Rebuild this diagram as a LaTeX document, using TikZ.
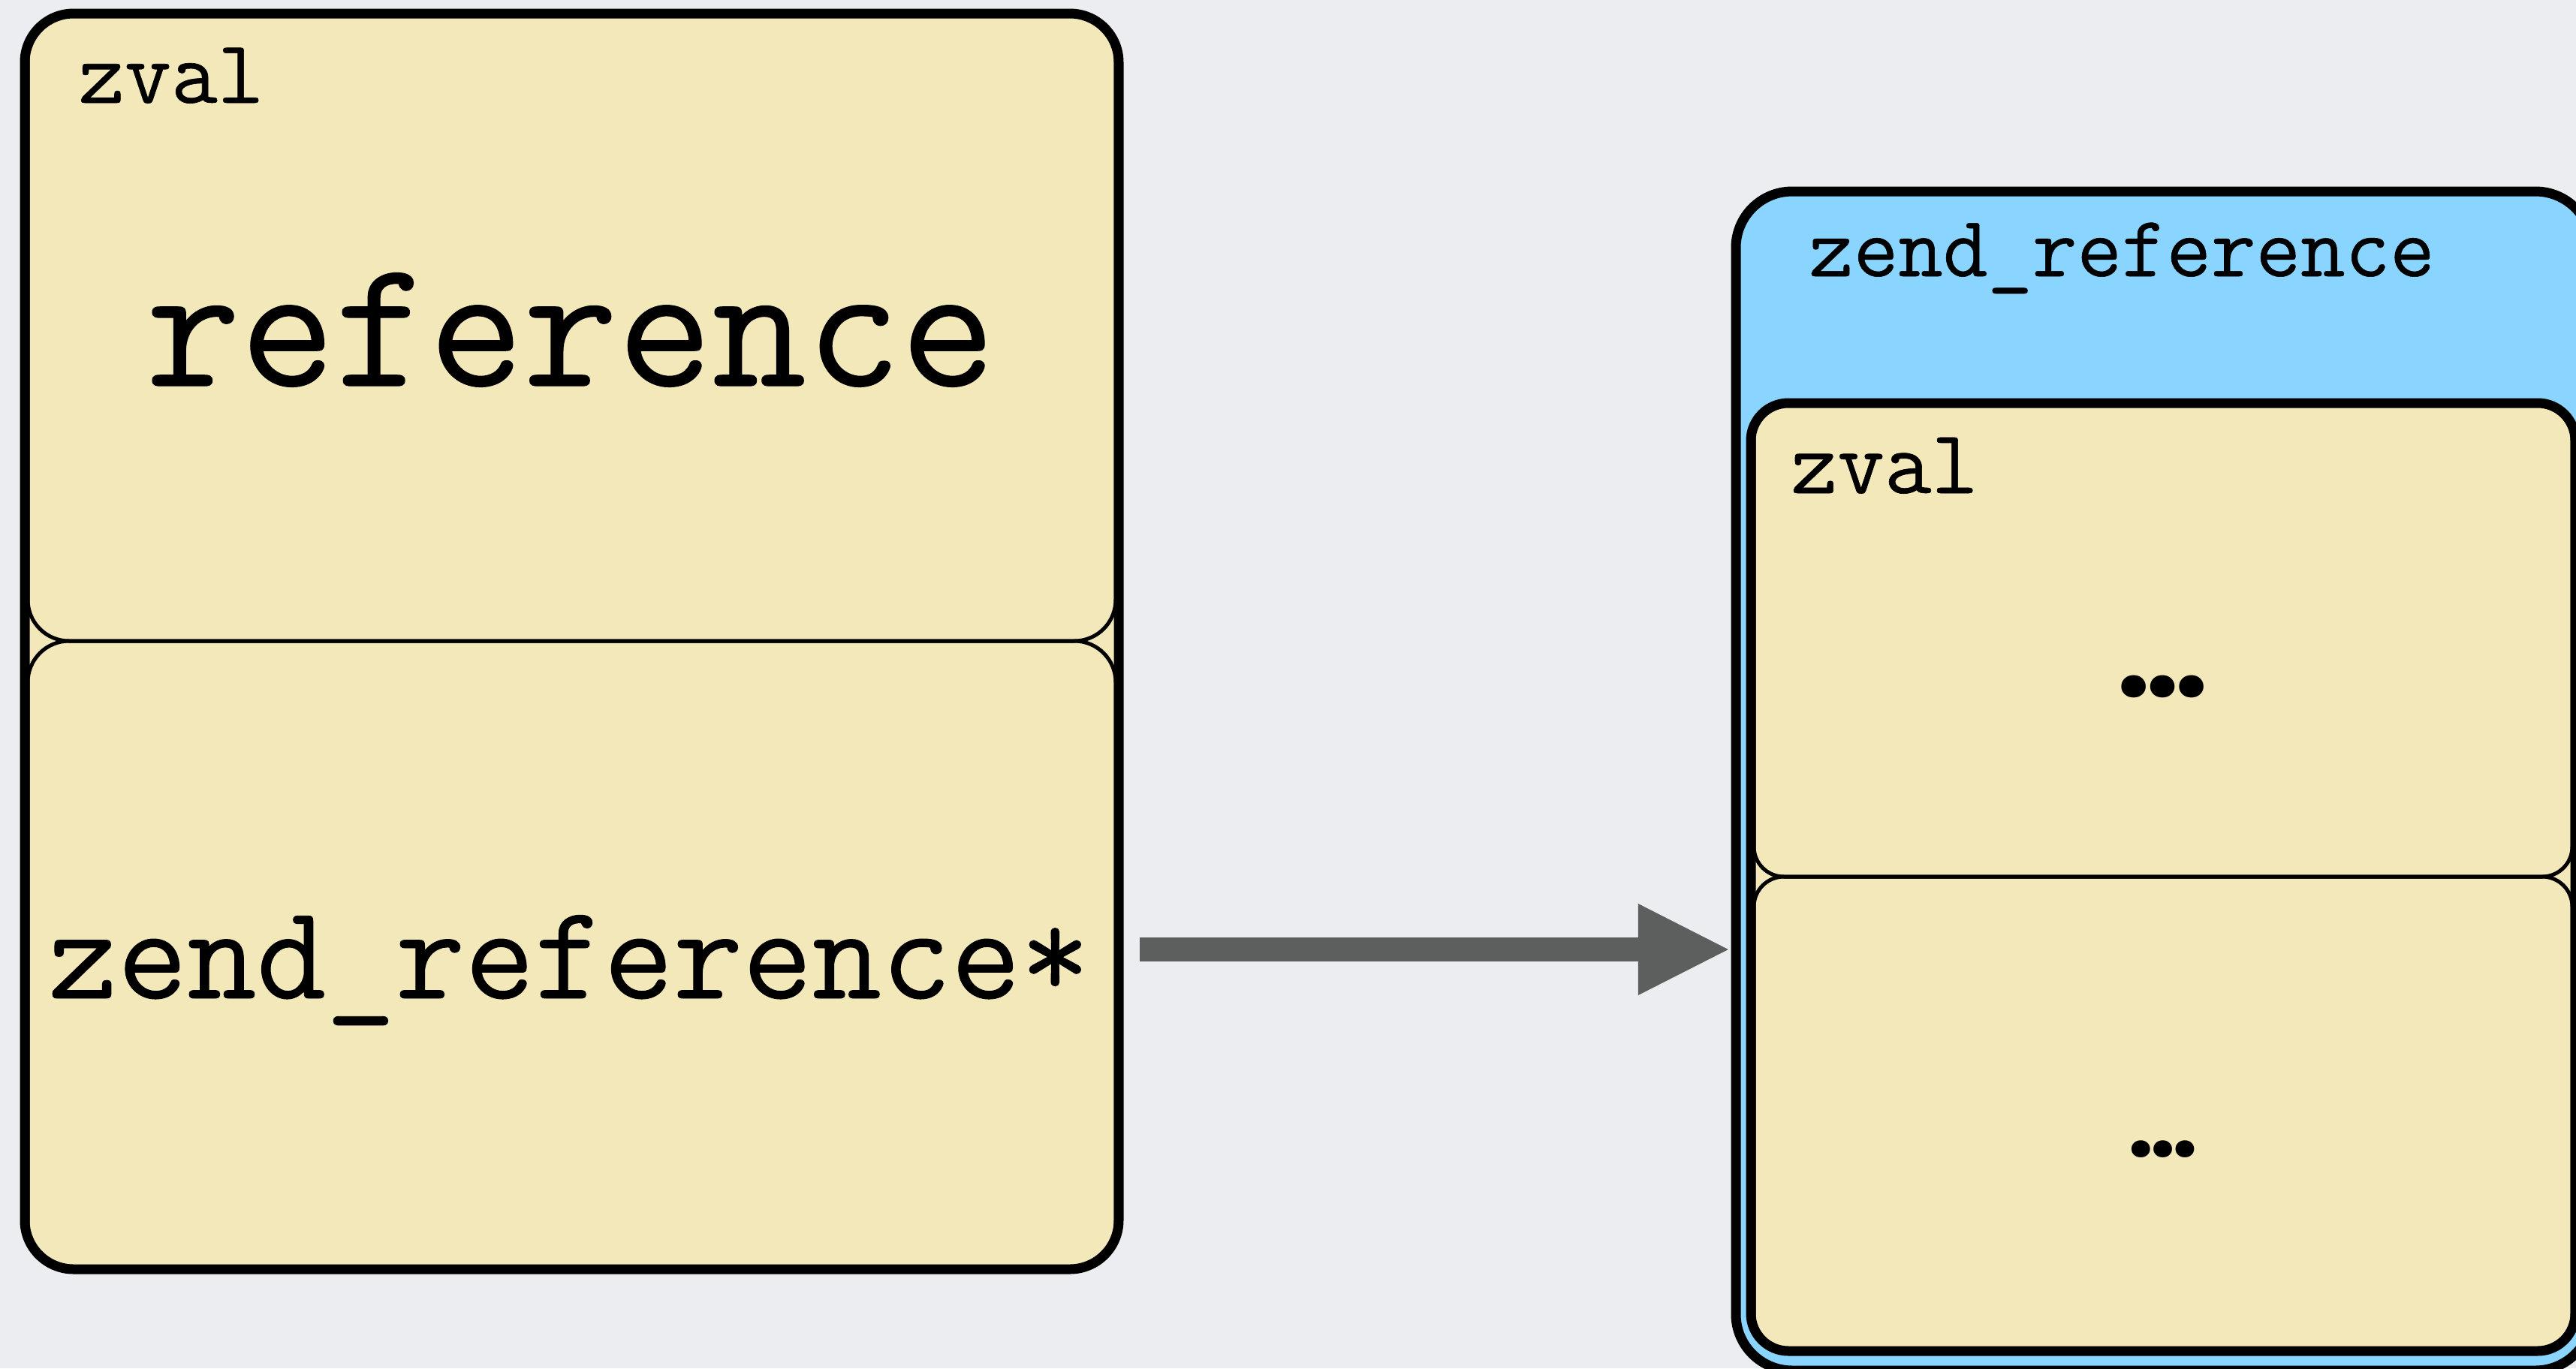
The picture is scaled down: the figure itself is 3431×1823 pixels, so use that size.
\documentclass[tikz,border=0pt]{standalone}
\usepackage{fontspec}
\newfontfamily\cour{Latin Modern Mono}[FakeBold=0.5]
\newfontfamily\dotfont{Poppins}
\usetikzlibrary{arrows.meta}
\definecolor{bgcol}{HTML}{ECEDF0}
\definecolor{beige}{HTML}{F2E8B9}
\definecolor{skyblue}{HTML}{89D5FF}
\definecolor{arrowgray}{HTML}{5C5F5E}
\tikzset{
  thickborder/.style={draw=black, line width=3.25pt},
  thinborder/.style={draw=black, line width=1.25pt},
  lbl/.style={inner sep=0pt, anchor=base, font=\cour},
  dotlbl/.style={inner sep=0pt, anchor=base, font=\dotfont\bfseries},
  bigarrow/.style={draw=arrowgray, line width=8pt,
    -{Triangle[length=30pt,width=30.5pt,line width=0pt]}},
}
\newcommand{\fs}[1]{\fontsize{#1}{#1}\selectfont}
\begin{document}
\begin{tikzpicture}[x=0.25pt,y=-0.25pt]
\useasboundingbox (0,0) rectangle (3431,1823);
\fill[bgcol] (0,0) rectangle (3431,1823);

% ---------- left box ----------
\begin{scope}
  \clip[rounded corners=16.25pt] (33,18) rectangle (1490,1691);
  \fill[beige] (0,0) rectangle (1500,1700);
  \draw[thinborder, rounded corners=13.75pt] (37,-200) rectangle (1486,854);
  \draw[thinborder, rounded corners=13.75pt] (37,854) rectangle (1486,1900);
\end{scope}
\node[thickborder, rounded corners=16.25pt, minimum width=364.25pt,
      minimum height=418.25pt, inner sep=0pt] (L) at (761.5,854.5) {};

\node[lbl] (lzval) at (228,137) {\fs{30pt}zval};
\node[lbl] (lref) at (760,514) {\fs{61pt}reference};
\node[lbl] (lzref) at (758,1330) {\fs{44.9pt}zend\_reference*};

% ---------- right box ----------
\node[thickborder, fill=skyblue, rounded corners=18.75pt, minimum width=285pt,
      minimum height=392.75pt, inner sep=0pt] (R) at (2882,1040.5) {};
\begin{scope}
  \clip[rounded corners=12.5pt] (2332,537) rectangle (3430,1800);
  \fill[beige] (2300,500) rectangle (3440,1810);
  \draw[thinborder, rounded corners=10pt] (2336,300) rectangle (3426,1168);
  \draw[thinborder, rounded corners=10pt] (2336,1168) rectangle (3426,1950);
\end{scope}
\node[thickborder, rounded corners=12.5pt, minimum width=274.5pt,
      minimum height=315.75pt, inner sep=0pt] (Ri) at (2881,1168.5) {};

\node[lbl] (rzref) at (2826,368) {\fs{28.9pt}zend\_reference};
\node[lbl] (rzval) at (2510,657) {\fs{30.3pt}zval};
\node[dotlbl] (dots1) at (2880,928) {\fs{40pt}…};
\node[dotlbl] (dots2) at (2881,1541) {\fs{30.5pt}…};

% ---------- arrow ----------
\draw[bigarrow, shorten <=5.4pt, shorten >=0.9pt] (L.east |- 0,1265) -- (R.west |- 0,1265);
\end{tikzpicture}
\end{document}
